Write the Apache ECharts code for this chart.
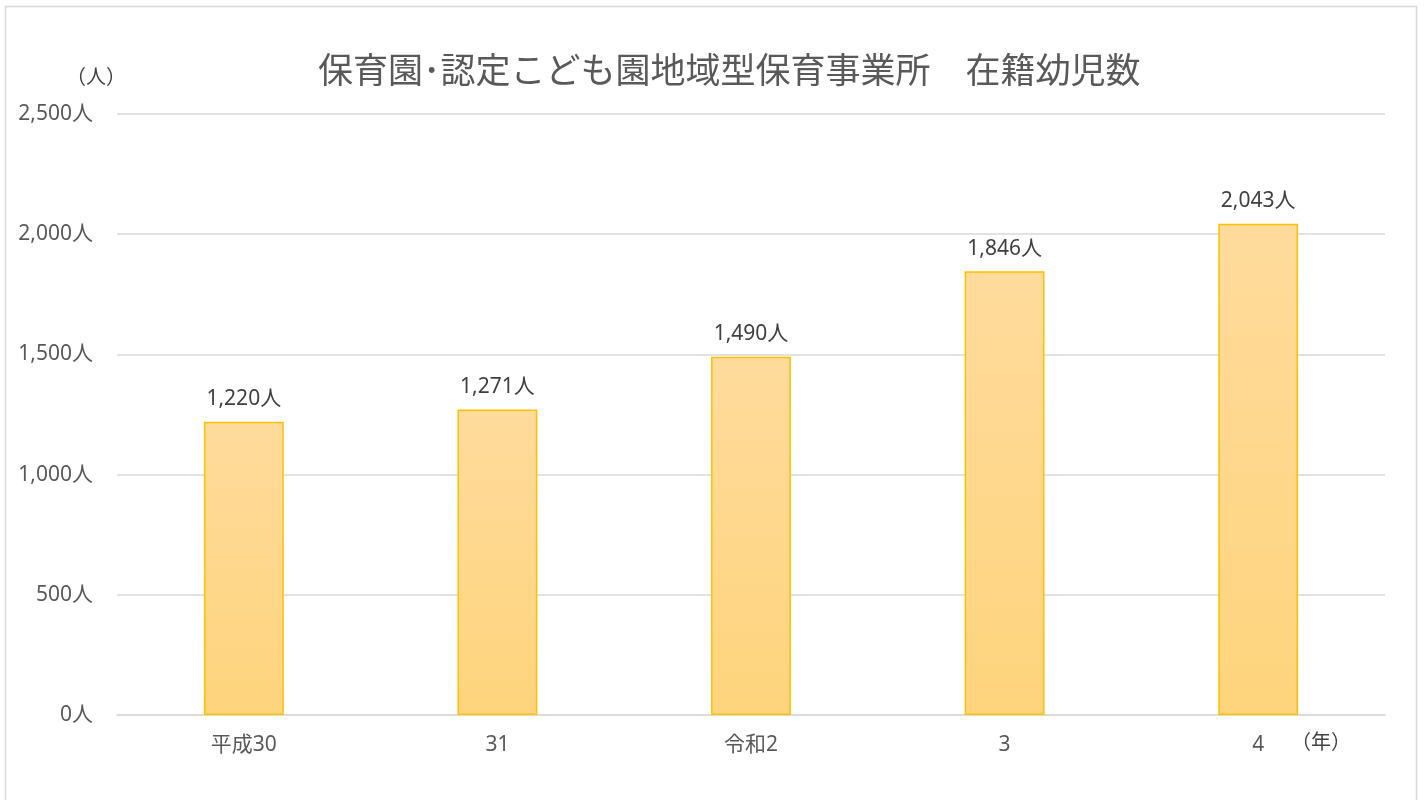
<!DOCTYPE html>
<html><head><meta charset="utf-8">
<script src="https://cdn.jsdelivr.net/npm/echarts@6/dist/echarts.min.js"></script>
<style>html,body{margin:0;padding:0;background:#fff}#c{width:1425px;height:800px}</style>
</head><body><div id="c"></div>
<script>
const categories = ['平成30', '31', '令和2', '3', '4'];
const values = [1220, 1271, 1490, 1846, 2043];
const yTicks = [0, 500, 1000, 1500, 2000, 2500];
const titleText = '保育園･認定こども園地域型保育事業所\u3000在籍幼児数';
const font = '"Noto Sans", "Noto Sans CJK JP", sans-serif';
const chart = echarts.init(document.getElementById('c'));
chart.setOption({
  animation: false,
  title: { text: titleText, left: 313, top: 47, textStyle: { fontFamily: '"Noto Sans CJK JP", sans-serif', fontSize: 35, fontWeight: 'normal', color: '#595959' } },
  graphic: [
    { type: 'rect', shape: { x: 5.5, y: 6.5, width: 1411, height: 800 }, style: { fill: 'none', stroke: '#D9D9D9', lineWidth: 1.5 }, silent: true },
    { type: 'text', left: 66, top: 68, style: { text: '（人）', fontFamily: font, fontSize: 20, fill: '#404040' } },
    { type: 'text', left: 1291, top: 733, style: { text: '（年）', fontFamily: font, fontSize: 20, fill: '#404040' } }
  ],
  grid: { left: 117, right: 40, top: 114, bottom: 85, containLabel: false },
  xAxis: {
    type: 'category', data: categories,
    axisLine: { lineStyle: { color: '#D9D9D9', width: 1.5 } },
    axisTick: { show: false },
    axisLabel: { fontFamily: font, fontSize: 21, color: '#595959', margin: 20 }
  },
  yAxis: {
    type: 'value', min: yTicks[0], max: yTicks[yTicks.length - 1], interval: 500,
    axisLine: { show: false }, axisTick: { show: false },
    splitLine: { lineStyle: { color: '#D9D9D9', width: 1.5 } },
    axisLabel: { fontFamily: font, fontSize: 21, color: '#595959', margin: 24, padding: [7, 0, 0, 0],
      formatter: v => v.toLocaleString('en-US') + '人' }
  },
  series: [{
    type: 'bar', data: values, barWidth: '31.5%',
    itemStyle: {
      color: new echarts.graphic.LinearGradient(0, 0, 0, 1, [
        { offset: 0, color: '#FFDB9C' }, { offset: 1, color: '#FED47C' }
      ]),
      borderColor: '#FFC000', borderWidth: 1.5
    },
    label: { show: true, position: 'top', distance: 12, fontFamily: font, fontSize: 21, color: '#404040',
      formatter: p => p.value.toLocaleString('en-US') + '人' }
  }]
});
</script></body></html>
